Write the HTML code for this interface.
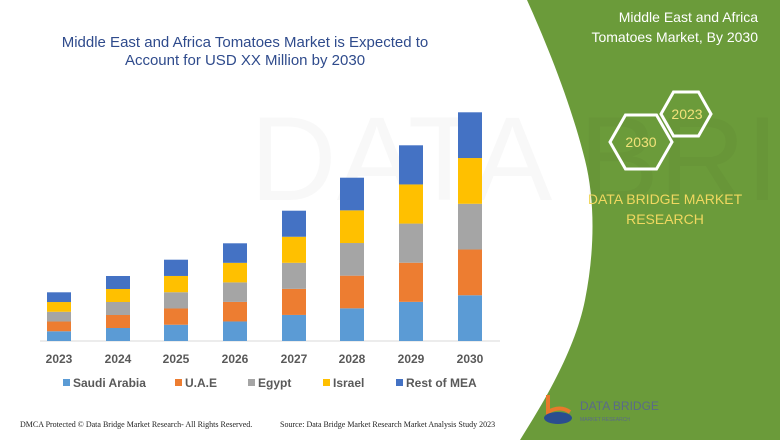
<!DOCTYPE html>
<html><head><meta charset="utf-8"><style>
body{margin:0;width:780px;height:440px;overflow:hidden;background:#fff;font-family:"Liberation Sans",sans-serif}
</style></head><body>
<svg width="780" height="440" xmlns="http://www.w3.org/2000/svg" style="position:absolute;left:0;top:0">
<path d="M527,0 L780,0 L780,440 L520,440 C545,400 575,350 585,300 C595,250 595,200 585,160 C570,100 545,40 527,0 Z" fill="#6b9b3a"/>
<text x="250" y="200" font-size="120" fill="#000" opacity="0.025" font-family="Liberation Sans">DATA BRIDGE</text>
<text x="245" y="47" font-size="15" fill="#2f4b8c" text-anchor="middle">Middle East and Africa Tomatoes Market is Expected to</text>
<text x="245" y="65" font-size="15" fill="#2f4b8c" text-anchor="middle">Account for USD XX Million by 2030</text>
<line x1="40" y1="341" x2="500" y2="341" stroke="#d9d9d9" stroke-width="1"/>
<g id="bars"></g>
<g font-size="12" font-weight="bold" fill="#595959" text-anchor="middle">
<text x="59" y="363">2023</text><text x="118" y="363">2024</text><text x="176" y="363">2025</text><text x="235" y="363">2026</text>
<text x="294" y="363">2027</text><text x="352" y="363">2028</text><text x="411" y="363">2029</text><text x="470" y="363">2030</text>
</g>
<g font-size="12" font-weight="bold" fill="#595959">
<rect x="63" y="379" width="7" height="7" fill="#5b9bd5"/><text x="73" y="387">Saudi Arabia</text>
<rect x="175" y="379" width="7" height="7" fill="#ed7d31"/><text x="185" y="387">U.A.E</text>
<rect x="248" y="379" width="7" height="7" fill="#a5a5a5"/><text x="258" y="387">Egypt</text>
<rect x="323" y="379" width="7" height="7" fill="#ffc000"/><text x="333" y="387">Israel</text>
<rect x="396" y="379" width="7" height="7" fill="#4472c4"/><text x="406" y="387">Rest of MEA</text>
</g>
<g font-size="14" fill="#fff" text-anchor="end">
<text x="758" y="22">Middle East and Africa</text>
<text x="758" y="42">Tomatoes Market, By 2030</text>
</g>
<polygon points="661,114 673.5,92 698.5,92 711,114 698.5,136 673.5,136" fill="none" stroke="#fff" stroke-width="3"/>
<polygon points="610,142 625.5,115 656.5,115 672,142 656.5,169 625.5,169" fill="none" stroke="#fff" stroke-width="3"/>
<text x="687" y="119" font-size="14" fill="#f2e27a" text-anchor="middle">2023</text>
<text x="641" y="147" font-size="14" fill="#f2e27a" text-anchor="middle">2030</text>
<g font-size="14" fill="#f0d860" text-anchor="middle">
<text x="665" y="204">DATA BRIDGE MARKET</text>
<text x="665" y="224">RESEARCH</text>
</g>
<path d="M548,395 L548,412 Q560,405 570,412" fill="none" stroke="#e8792b" stroke-width="4"/>
<ellipse cx="558" cy="418" rx="14" ry="6" fill="#2a4d8f"/>
<text x="580" y="410" font-size="12" fill="#5a6a8a">DATA BRIDGE</text>
<text x="580" y="421" font-size="5" fill="#5a6a8a">MARKET RESEARCH</text>
<g font-family="Liberation Serif" font-size="8" fill="#222">
<text x="20" y="427">DMCA Protected © Data Bridge Market Research- All Rights Reserved.</text>
<text x="280" y="427">Source: Data Bridge Market Research Market Analysis Study 2023</text>
</g>
</svg>
<script>
var tops=[292.3,276,259.7,243.3,210.7,177.7,145.3,112.3];
var xs=[47,106,164,223,282,340,399,458];
var cols=["#5b9bd5","#ed7d31","#a5a5a5","#ffc000","#4472c4"];
var g=document.getElementById("bars"),s="";
for(var i=0;i<8;i++){var h=(341-tops[i])/5;for(var k=0;k<5;k++){var y=341-h*(k+1);s+='<rect x="'+xs[i]+'" y="'+y+'" width="24" height="'+h+'" fill="'+cols[k]+'"/>';}}
g.innerHTML=s;
</script>
</body></html>
